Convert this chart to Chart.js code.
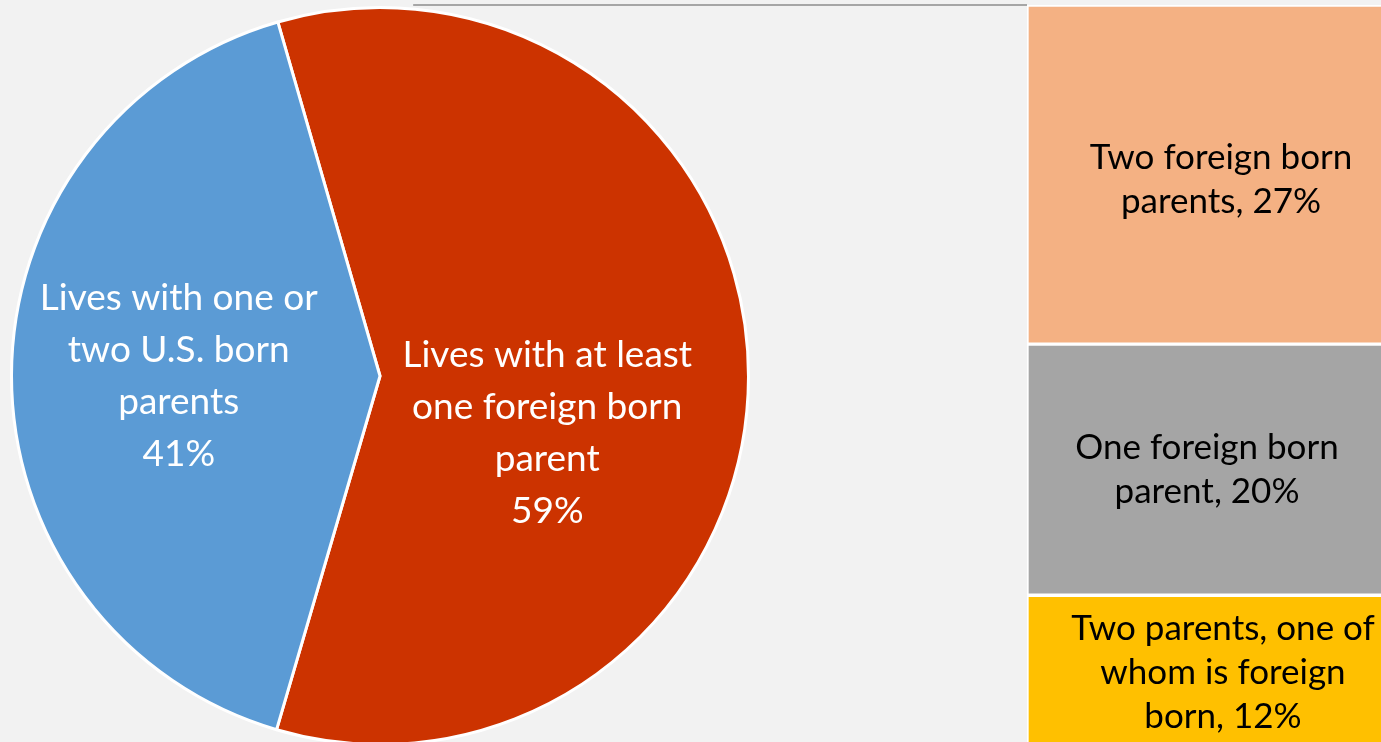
<!DOCTYPE html>
<html>
<head>
<meta charset="utf-8">
<script src="https://cdn.jsdelivr.net/npm/chart.js@4.4.1/dist/chart.umd.min.js"></script>
<style>
  html, body { margin: 0; padding: 0; background: #f2f2f2; overflow: hidden; }
  #wrap { position: relative; width: 1381px; height: 742px; overflow: hidden; }
  #pieChart { position: absolute; left: 0; top: 0; }
  #barChart { position: absolute; left: 1027px; top: 0; }
</style>
</head>
<body>
<div id="wrap">
  <canvas id="pieChart" width="1381" height="752"></canvas>
  <canvas id="barChart" width="380" height="746"></canvas>
</div>
<script>
// パイ（左）
const pieLabels = [
    ['Lives with at least', 'one foreign born', 'parent', '59%'],
    ['Lives with one or', 'two U.S. born', 'parents', '41%']
];
const pieValues = [59, 41];
const pieColors = ['#cc3300', '#5b9bd5'];

// 積み上げ棒（右）: 下から順に
const barLabels = [
    ['Two parents, one of', 'whom is foreign', 'born, 12%'],
    ['One foreign born', 'parent, 20%'],
    ['Two foreign born', 'parents, 27%']
];
const barValues = [12, 20, 27];
const barColors = ['#ffc000', '#a5a5a5', '#f4b183'];

const FONT = 'Lato, "Open Sans", sans-serif';

// ラベルを描くプラグイン
const pieLabelPlugin = {
    id: 'pieLabels',
    afterDatasetsDraw(chart, args, opts) {
        const ctx = chart.ctx;
        const meta = chart.getDatasetMeta(0);
        ctx.save();
        ctx.font = opts.size + 'px ' + FONT;
        ctx.fillStyle = '#ffffff';
        ctx.textAlign = 'center';
        ctx.textBaseline = 'middle';
        meta.data.forEach((arc, i) => {
            const pos = arc.tooltipPosition();
            const off = opts.offsets[i];
            const lines = pieLabels[i];
            const y0 = pos.y + off[1] - (lines.length - 1) * opts.lineHeight / 2;
            lines.forEach((line, j) => {
                ctx.fillText(line, pos.x + off[0], y0 + j * opts.lineHeight);
            });
        });
        ctx.restore();
    }
};

const connectorPlugin = {
    id: 'connector',
    beforeDatasetsDraw(chart, args, opts) {
        const ctx = chart.ctx;
        const arc = chart.getDatasetMeta(0).data[0];
        const startX = arc.x + arc.outerRadius * 0.09;
        ctx.save();
        ctx.strokeStyle = '#a6a6a6';
        ctx.lineWidth = 2;
        ctx.beginPath();
        ctx.moveTo(startX, opts.y);
        ctx.lineTo(opts.x, opts.y);
        ctx.stroke();
        ctx.restore();
    }
};

const barLabelPlugin = {
    id: 'barLabels',
    afterDatasetsDraw(chart, args, opts) {
        const ctx = chart.ctx;
        ctx.save();
        ctx.font = opts.size + 'px ' + FONT;
        ctx.fillStyle = '#000000';
        ctx.textAlign = 'center';
        ctx.textBaseline = 'middle';
        chart.data.datasets.forEach((ds, i) => {
            const bar = chart.getDatasetMeta(i).data[0];
            const cy = (bar.y + bar.base) / 2 + opts.offsetY[i];
            const lines = barLabels[i];
            const y0 = cy - (lines.length - 1) * opts.lineHeight / 2;
            lines.forEach((line, j) => {
                ctx.fillText(line, bar.x + opts.offsetX[i], y0 + j * opts.lineHeight);
            });
        });
        ctx.restore();
    }
};

const barChart = new Chart(document.getElementById('barChart'), {
    type: 'bar',
    data: {
        labels: [''],
        datasets: barValues.map((v, i) => ({
            data: [v],
            backgroundColor: barColors[i],
            borderColor: '#ffffff',
            borderWidth: 2,
            borderSkipped: false,
            barPercentage: 1,
            categoryPercentage: 1
        }))
    },
    options: {
        responsive: false,
        animation: false,
        layout: { padding: { top: 5, bottom: 0, left: 0, right: 0 } },
        plugins: {
            legend: { display: false },
            tooltip: { enabled: false },
            barLabels: { size: 35, lineHeight: 44, offsetX: [6, -10, 4], offsetY: [2, 0, 5] }
        },
        scales: {
            x: { display: false, stacked: true },
            y: { display: false, stacked: true, min: 0, max: 59 }
        }
    },
    plugins: [barLabelPlugin]
});

new Chart(document.getElementById('pieChart'), {
    type: 'pie',
    data: {
        labels: pieLabels.map(l => l.join(' ')),
        datasets: [{
            data: pieValues,
            backgroundColor: pieColors,
            borderColor: '#ffffff',
            borderWidth: 3
        }]
    },
    options: {
        responsive: false,
        animation: false,
        rotation: -16.1,
        radius: 368.5,
        layout: { padding: { left: 0, right: 621, top: 0, bottom: 0 } },
        plugins: {
            legend: { display: false },
            tooltip: { enabled: false },
            pieLabels: { size: 37, lineHeight: 52, offsets: [[-17, 57], [-17, 0]] },
            connector: { x: 1027, y: barChart.chartArea.top }
        }
    },
    plugins: [connectorPlugin, pieLabelPlugin]
});
</script>
</body>
</html>
